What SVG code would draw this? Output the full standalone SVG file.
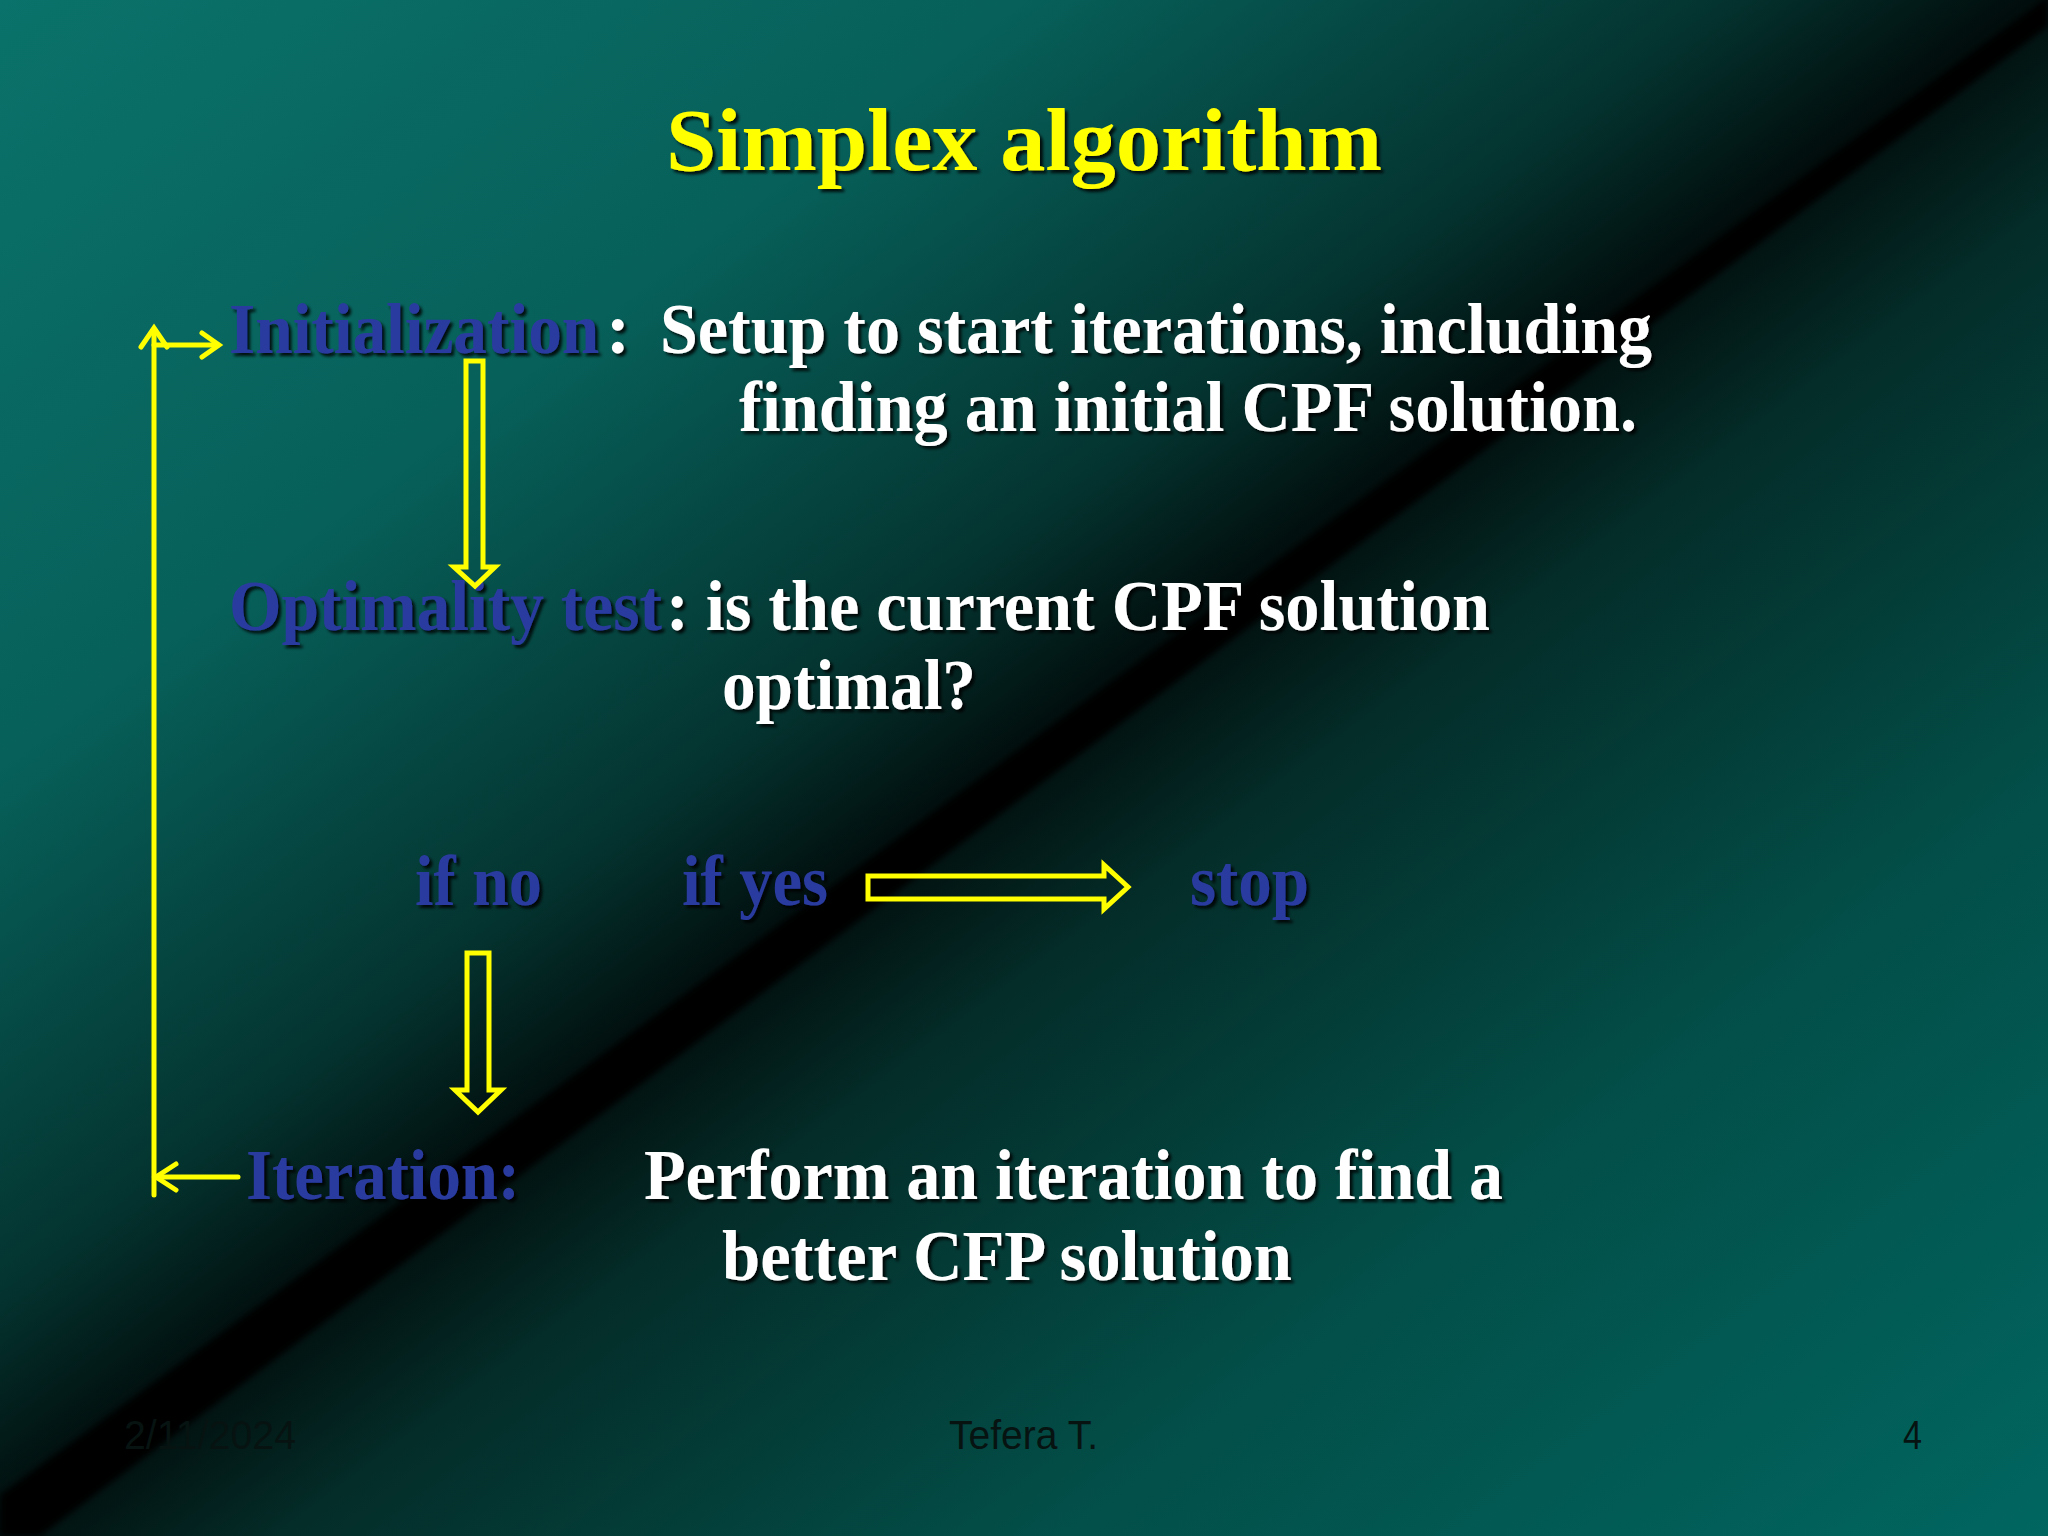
<svg xmlns="http://www.w3.org/2000/svg" width="2048" height="1536" viewBox="0 0 2048 1536">
  <defs>
    <linearGradient id="bg" gradientUnits="userSpaceOnUse" x1="287" y1="-215" x2="1761" y2="1751">
      <stop offset="0" stop-color="#0a726a"/>
      <stop offset="0.25" stop-color="#07605a"/>
      <stop offset="0.42" stop-color="#043430"/>
      <stop offset="0.495" stop-color="#010d0c"/>
      <stop offset="0.51" stop-color="#021412"/>
      <stop offset="0.57" stop-color="#042d29"/>
      <stop offset="0.75" stop-color="#034e48"/>
      <stop offset="1" stop-color="#016660"/>
    </linearGradient>
    <filter id="blur" x="-10%" y="-10%" width="120%" height="120%">
      <feGaussianBlur stdDeviation="3"/>
    </filter>
    <filter id="shadow" x="-5%" y="-20%" width="110%" height="140%">
      <feDropShadow dx="3" dy="3" stdDeviation="1.5" flood-color="#000" flood-opacity="0.85"/>
    </filter>
  </defs>
  <style>
    .t { font-family: "Liberation Serif", "Times New Roman", serif; font-weight: bold; font-size: 72px; filter: url(#shadow); }
    .w { fill: #ffffff; }
    .b { fill: #2a3ba0; }
    .title { font-family: "Liberation Serif", "Times New Roman", serif; font-weight: bold; font-size: 89px; fill: #ffff00; filter: url(#shadow); }
    .foot { font-family: "Liberation Sans", Arial, sans-serif; font-size: 40px; fill: #061311; }
    .line { fill: none; stroke: #ffff00; stroke-width: 5; stroke-linecap: round; stroke-linejoin: miter; }
    .block { fill: none; stroke: #ffff00; stroke-width: 5; stroke-linejoin: miter; }
  </style>

  <rect x="0" y="0" width="2048" height="1536" fill="url(#bg)"/>
  <polygon points="0,1495 2048,-4 2048,26 40,1536 0,1536" fill="#000" filter="url(#blur)"/>

  <g id="title">
    <text class="title" x="666" y="170" textLength="716" lengthAdjust="spacingAndGlyphs">Simplex algorithm</text>
  </g>

  <g id="initialization">
    <text class="t b" transform="translate(229 353) scale(0.935 1)">Initialization</text>
    <text class="t w" x="606" y="353">:</text>
    <text class="t w" x="660" y="353" textLength="992" lengthAdjust="spacingAndGlyphs">Setup to start iterations, including</text>
    <text class="t w" x="739" y="431" textLength="898" lengthAdjust="spacingAndGlyphs">finding an initial CPF solution.</text>
  </g>

  <g id="optimality">
    <text class="t b" x="229" y="630" textLength="433" lengthAdjust="spacingAndGlyphs">Optimality test</text>
    <text class="t w" x="666" y="630" textLength="824" lengthAdjust="spacingAndGlyphs">: is the current CPF solution</text>
    <text class="t w" x="722" y="709" textLength="254" lengthAdjust="spacingAndGlyphs">optimal?</text>
  </g>

  <g id="if-no">
    <text class="t b" x="415" y="905" textLength="127" lengthAdjust="spacingAndGlyphs">if no</text>
  </g>
  <g id="if-yes">
    <text class="t b" x="682" y="905" textLength="146" lengthAdjust="spacingAndGlyphs">if yes</text>
  </g>
  <g id="stop">
    <text class="t b" x="1190" y="905" textLength="119" lengthAdjust="spacingAndGlyphs">stop</text>
  </g>

  <g id="iteration">
    <text class="t b" x="246" y="1199" textLength="274" lengthAdjust="spacingAndGlyphs">Iteration:</text>
    <text class="t w" x="644" y="1199" textLength="859" lengthAdjust="spacingAndGlyphs">Perform an iteration to find a</text>
    <text class="t w" x="722" y="1280" textLength="570" lengthAdjust="spacingAndGlyphs">better CFP solution</text>
  </g>

  <g id="connectors">
    <path class="line" d="M154 1195 L154 332"/>
    <polyline class="line" points="141,347 154,328 167,347"/>
    <path class="line" d="M154 345 L218 345"/>
    <polyline class="line" points="202,333 219,345 202,357"/>
    <path class="line" d="M238 1177 L157 1177"/>
    <polyline class="line" points="176,1164 156,1177 176,1190"/>
    <polygon class="block" points="466,361 483,361 483,567 495,567 475,586 454,567 466,567"/>
    <polygon class="block" points="467,953 489,953 489,1090 501,1090 478,1112 455,1090 467,1090"/>
    <polygon class="block" points="868,876 1104,876 1104,865 1128,887 1104,909 1104,899 868,899"/>
  </g>

  <g id="footer">
    <text class="foot" x="124" y="1449" textLength="172" lengthAdjust="spacingAndGlyphs">2/11/2024</text>
    <text class="foot" x="949" y="1449" textLength="149" lengthAdjust="spacingAndGlyphs">Tefera T.</text>
    <text class="foot" x="1903" y="1449" textLength="19" lengthAdjust="spacingAndGlyphs">4</text>
  </g>
</svg>
